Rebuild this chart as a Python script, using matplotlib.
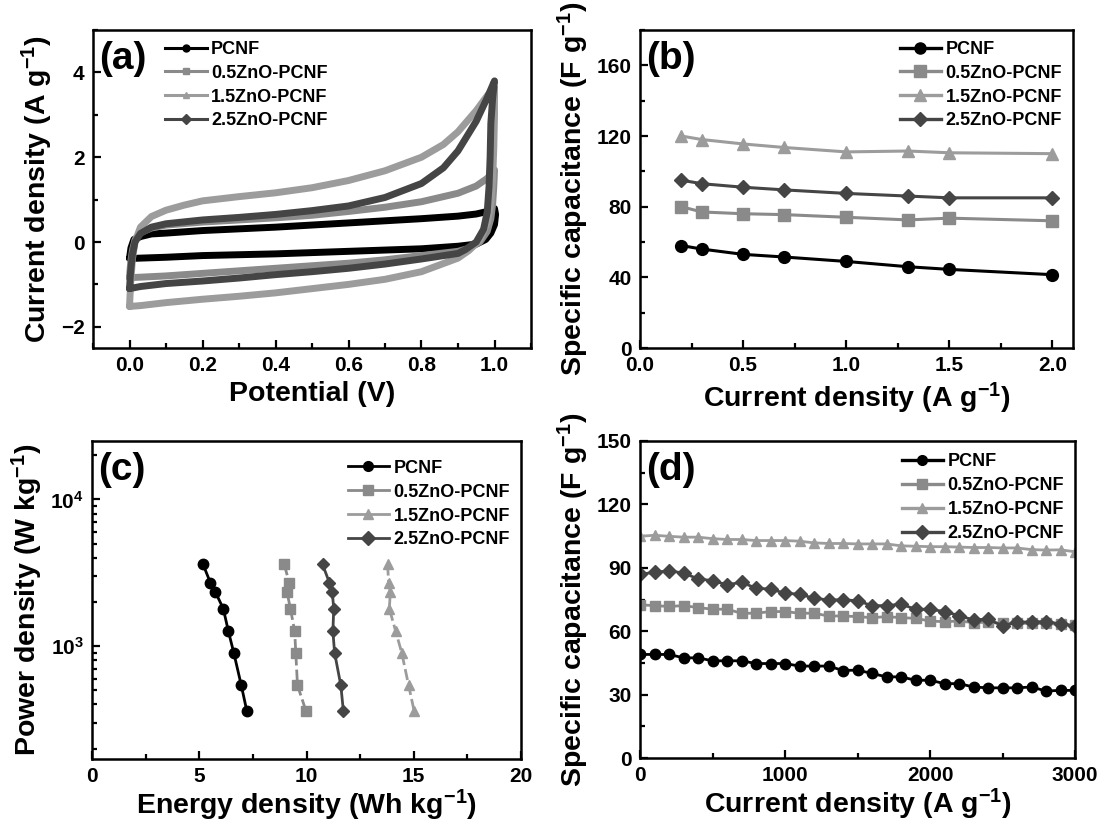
import matplotlib
matplotlib.use("Agg")
import matplotlib.pyplot as plt
from matplotlib.lines import Line2D
from matplotlib.ticker import MultipleLocator, LogLocator, NullFormatter

plt.rcParams['font.family'] = ['Liberation Sans', 'DejaVu Sans']
plt.rcParams['font.weight'] = 'bold'
plt.rcParams['axes.labelweight'] = 'bold'
plt.rcParams['mathtext.fontset'] = 'custom'
plt.rcParams['mathtext.rm'] = 'Liberation Sans:bold'
plt.rcParams['mathtext.bf'] = 'Liberation Sans:bold'
plt.rcParams['mathtext.default'] = 'bf'

labels = ['PCNF', '0.5ZnO-PCNF', '1.5ZnO-PCNF', '2.5ZnO-PCNF']
colors = ['#000000', '#8a8a8a', '#9c9c9c', '#454545']
markers = ['o', 's', '^', 'D']

# ---- (a) CV curves ----
cv_pcnf_x = [0.0, 0.004, 0.012, 0.031, 0.06, 0.1, 0.2, 0.4, 0.6, 0.8, 0.9, 0.95, 0.985, 1.0, 1.003,
             1.0, 0.99, 0.976, 0.95, 0.9, 0.8, 0.6, 0.4, 0.2, 0.1, 0.031, 0.0, 0.0]
cv_pcnf_y = [-0.38, -0.14, 0.06, 0.13, 0.19, 0.21, 0.27, 0.35, 0.45, 0.55, 0.61, 0.66, 0.73, 0.79, 0.65,
             0.41, 0.21, 0.06, -0.05, -0.10, -0.16, -0.22, -0.28, -0.32, -0.36, -0.38, -0.39, -0.38]

cv_05_x = [0.0, 0.003, 0.008, 0.015, 0.03, 0.06, 0.1, 0.2, 0.3, 0.4, 0.5, 0.6, 0.7, 0.8, 0.9, 0.95, 0.98, 1.0,
           0.998, 0.995, 0.99, 0.98, 0.96, 0.93, 0.9, 0.8, 0.7, 0.6, 0.5, 0.4, 0.3, 0.2, 0.1, 0.03, 0.0]
cv_05_y = [-0.84, -0.5, -0.2, 0.05, 0.22, 0.33, 0.4, 0.47, 0.52, 0.57, 0.63, 0.72, 0.82, 0.95, 1.15, 1.32, 1.5, 1.7,
           1.3, 0.9, 0.55, 0.25, 0.0, -0.15, -0.22, -0.32, -0.42, -0.5, -0.56, -0.62, -0.68, -0.74, -0.8, -0.83, -0.84]

cv_15_x = [0.0, 0.003, 0.008, 0.015, 0.03, 0.06, 0.1, 0.15, 0.2, 0.3, 0.4, 0.5, 0.6, 0.7, 0.8, 0.86, 0.9, 0.95, 0.98, 1.0,
           1.0, 0.998, 0.995, 0.99, 0.98, 0.96, 0.93, 0.9, 0.8, 0.7, 0.6, 0.5, 0.4, 0.3, 0.2, 0.1, 0.03, 0.0]
cv_15_y = [-1.52, -1.0, -0.4, 0.0, 0.35, 0.6, 0.75, 0.87, 0.97, 1.07, 1.16, 1.28, 1.45, 1.68, 2.0, 2.3, 2.6, 3.1, 3.45, 3.65,
           3.0, 2.2, 1.5, 0.9, 0.45, 0.05, -0.2, -0.38, -0.7, -0.88, -1.0, -1.1, -1.2, -1.28, -1.35, -1.43, -1.5, -1.52]

cv_25_x = [0.0, 0.003, 0.008, 0.015, 0.03, 0.06, 0.1, 0.2, 0.3, 0.4, 0.5, 0.6, 0.7, 0.8, 0.86, 0.9, 0.95, 0.98, 1.0,
           0.995, 0.99, 0.988, 0.985, 0.98, 0.97, 0.95, 0.92, 0.9, 0.8, 0.7, 0.6, 0.5, 0.4, 0.3, 0.2, 0.1, 0.03, 0.0]
cv_25_y = [-1.1, -0.7, -0.3, 0.0, 0.2, 0.35, 0.43, 0.52, 0.58, 0.65, 0.74, 0.85, 1.05, 1.38, 1.75, 2.15, 2.85, 3.4, 3.8,
           3.4, 2.8, 2.0, 1.3, 0.7, 0.3, 0.0, -0.18, -0.27, -0.4, -0.52, -0.62, -0.7, -0.77, -0.85, -0.92, -0.98, -1.05, -1.1]

# ---- (b) rate capability ----
b_current = [0.2, 0.3, 0.5, 0.7, 1.0, 1.3, 1.5, 2.0]
b_pcnf = [58, 56, 53, 51.5, 49, 46, 44.5, 41.5]
b_05 = [80, 77, 76, 75.5, 74, 72.5, 73.5, 72]
b_15 = [120, 118, 115.5, 113.5, 111, 111.5, 110.5, 110]
b_25 = [95, 93, 91, 89.5, 87.5, 86, 85, 85]

# ---- (c) Ragone ----
c_power = [3600, 2700, 2340, 1800, 1260, 900, 540, 360]
c_pcnf = [5.18, 5.52, 5.75, 6.12, 6.36, 6.61, 6.96, 7.22]
c_05 = [8.96, 9.20, 9.09, 9.25, 9.45, 9.50, 9.58, 9.98]
c_15 = [13.78, 13.83, 13.91, 13.86, 14.16, 14.44, 14.76, 15.02]
c_25 = [10.75, 11.07, 11.20, 11.27, 11.23, 11.31, 11.60, 11.72]

# ---- (d) cycling ----
d_x = [0, 100, 200, 300, 400, 500, 600, 700, 800, 900, 1000, 1100, 1200, 1300, 1400, 1500,
       1600, 1700, 1800, 1900, 2000, 2100, 2200, 2300, 2400, 2500, 2600, 2700, 2800, 2900, 3000]
d_pcnf = [49.0, 49.0, 49.0, 47.4, 47.4, 46.0, 46.0, 46.0, 44.7, 44.7, 44.7, 43.5, 43.5, 43.5, 41.4, 41.6,
          40.0, 38.4, 38.4, 36.8, 36.8, 35.2, 35.2, 33.6, 33.2, 33.2, 33.2, 33.6, 31.7, 32.0, 32.0]
d_05 = [72.5, 72.1, 71.7, 72.1, 71.2, 70.4, 70.4, 68.5, 68.5, 69.3, 69.3, 68.5, 68.5, 67.2, 67.2, 66.9,
        66.4, 66.9, 66.4, 66.1, 64.8, 64.5, 64.8, 64.1, 64.2, 63.7, 63.7, 63.7, 63.7, 63.2, 62.8]
d_15 = [104.9, 105.4, 104.9, 104.5, 104.5, 103.8, 103.4, 103.4, 102.9, 102.9, 102.9, 102.6, 101.8, 101.5,
        101.5, 101.3, 101.3, 101.3, 100.4, 100.2, 100.0, 100.0, 99.8, 99.6, 99.6, 99.4, 99.4, 98.6, 98.4, 98.5, 97.6]
d_25 = [87.0, 87.8, 88.6, 87.5, 84.8, 83.9, 82.0, 83.1, 80.4, 79.9, 78.0, 77.5, 75.6, 74.8, 74.9, 74.4,
        72.1, 72.1, 72.8, 70.4, 70.4, 69.3, 67.4, 65.3, 65.8, 62.5, 64.2, 64.5, 64.5, 63.5, 62.5]

W, H = 1098, 825
fig = plt.figure(figsize=(W / 100, H / 100), dpi=100)


def add_ax(l, r, t, b):
    return fig.add_axes([l / W, 1 - b / H, (r - l) / W, (b - t) / H])


ax_a = add_ax(93, 531, 30, 348)
ax_b = add_ax(640, 1073, 30, 348)
ax_c = add_ax(92, 521, 441, 759)
ax_d = add_ax(640, 1075, 441, 758)

TICK_FS = 15
LABEL_FS = 20.5
LEG_FS = 13


def style(ax):
    for s in ax.spines.values():
        s.set_linewidth(1.8)
    ax.tick_params(which='both', direction='in', width=1.6, labelsize=TICK_FS, pad=6,
                   top=False, right=False)
    ax.tick_params(which='major', length=6)
    ax.tick_params(which='minor', length=3.5)
    for lab in ax.get_xticklabels() + ax.get_yticklabels():
        lab.set_fontweight('bold')


def panel_label(ax, s):
    ax.text(0.015, 0.965, s, transform=ax.transAxes, fontsize=28, fontweight='bold',
            va='top', ha='left')


def legend(ax, handles, **kw):
    leg = ax.legend(handles=handles, labels=labels, frameon=False, fontsize=LEG_FS,
                    handlelength=2.3, handletextpad=0.25, labelspacing=0.38,
                    borderaxespad=0.2, **kw)
    for t in leg.get_texts():
        t.set_fontweight('bold')
    return leg


# (a)
cv_x = [cv_pcnf_x, cv_05_x, cv_15_x, cv_25_x]
cv_y = [cv_pcnf_y, cv_05_y, cv_15_y, cv_25_y]
for xs, ys, c in zip(cv_x, cv_y, colors):
    ax_a.plot(xs, ys, color=c, lw=5.0, solid_joinstyle='round', solid_capstyle='round')
ax_a.set_xlim(-0.1, 1.1)
ax_a.set_ylim(-2.5, 5)
ax_a.xaxis.set_major_locator(MultipleLocator(0.2))
ax_a.xaxis.set_minor_locator(MultipleLocator(0.1))
ax_a.yaxis.set_major_locator(MultipleLocator(2))
ax_a.yaxis.set_minor_locator(MultipleLocator(1))
ax_a.set_xlabel('Potential (V)', fontsize=LABEL_FS)
ax_a.set_ylabel('Current density (A g$^{-1}$)', fontsize=LABEL_FS)
style(ax_a)
panel_label(ax_a, '(a)')
hand_a = [Line2D([], [], color=c, marker=m, lw=2.2, ms=5) for c, m in zip(colors, markers)]
legend(ax_a, hand_a, loc='upper left', bbox_to_anchor=(0.14, 1.0))

# (b)
for ys, c, m in zip([b_pcnf, b_05, b_15, b_25], colors, markers):
    ax_b.plot(b_current, ys, color=c, marker=m, lw=2.2, ms=8.5 if m != 'D' else 7.5)
ax_b.set_xlim(0, 2.1)
ax_b.set_ylim(0, 180)
ax_b.xaxis.set_major_locator(MultipleLocator(0.5))
ax_b.xaxis.set_minor_locator(MultipleLocator(0.25))
ax_b.yaxis.set_major_locator(MultipleLocator(40))
ax_b.yaxis.set_minor_locator(MultipleLocator(20))
ax_b.set_xlabel('Current density (A g$^{-1}$)', fontsize=LABEL_FS)
ax_b.set_ylabel('Specific capacitance (F g$^{-1}$)', fontsize=LABEL_FS)
style(ax_b)
panel_label(ax_b, '(b)')
hand_b = [Line2D([], [], color=c, marker=m, lw=2.4, ms=8 if m != 'D' else 7) for c, m in zip(colors, markers)]
legend(ax_b, hand_b, loc='upper right', bbox_to_anchor=(1.0, 1.0))

# (c)
c_styles = ['-', (0, (4, 1.5)), (0, (4, 1.5)), '-']
for xs, c, m, ls in zip([c_pcnf, c_05, c_15, c_25], colors, markers, c_styles):
    ax_c.plot(xs, c_power, color=c, marker=m, lw=2.0, ls=ls, ms=7.5 if m != 'D' else 6.5)
ax_c.set_yscale('log')
ax_c.set_xlim(0, 20)
ax_c.set_ylim(170, 25000)
ax_c.xaxis.set_major_locator(MultipleLocator(5))
ax_c.xaxis.set_minor_locator(MultipleLocator(2.5))
ax_c.yaxis.set_major_locator(LogLocator(base=10, numticks=10))
ax_c.yaxis.set_minor_locator(LogLocator(base=10, subs=range(2, 10), numticks=20))
ax_c.yaxis.set_minor_formatter(NullFormatter())
ax_c.set_xlabel('Energy density (Wh kg$^{-1}$)', fontsize=LABEL_FS, labelpad=1)
ax_c.set_ylabel('Power density (W kg$^{-1}$)', fontsize=LABEL_FS)
style(ax_c)
panel_label(ax_c, '(c)')
hand_c = [Line2D([], [], color=c, marker=m, lw=2.0, ms=7) for c, m in zip(colors, markers)]
legend(ax_c, hand_c, loc='upper right', bbox_to_anchor=(1.0, 0.975))

# (d)
for ys, c, m in zip([d_pcnf, d_05, d_15, d_25], colors, markers):
    ax_d.plot(d_x, ys, color=c, marker=m, lw=2.0, ms=7.5 if m != 'D' else 7)
ax_d.set_xlim(0, 3000)
ax_d.set_ylim(0, 150)
ax_d.xaxis.set_major_locator(MultipleLocator(1000))
ax_d.xaxis.set_minor_locator(MultipleLocator(500))
ax_d.yaxis.set_major_locator(MultipleLocator(30))
ax_d.yaxis.set_minor_locator(MultipleLocator(15))
ax_d.set_xlabel('Current density (A g$^{-1}$)', fontsize=LABEL_FS, labelpad=1)
ax_d.set_ylabel('Specific capacitance (F g$^{-1}$)', fontsize=LABEL_FS)
style(ax_d)
panel_label(ax_d, '(d)')
hand_d = [Line2D([], [], color=c, marker=m, lw=2.4, ms=7) for c, m in zip(colors, markers)]
legend(ax_d, hand_d, loc='upper right', bbox_to_anchor=(1.0, 0.995))

fig.savefig('out.png', dpi=100)
